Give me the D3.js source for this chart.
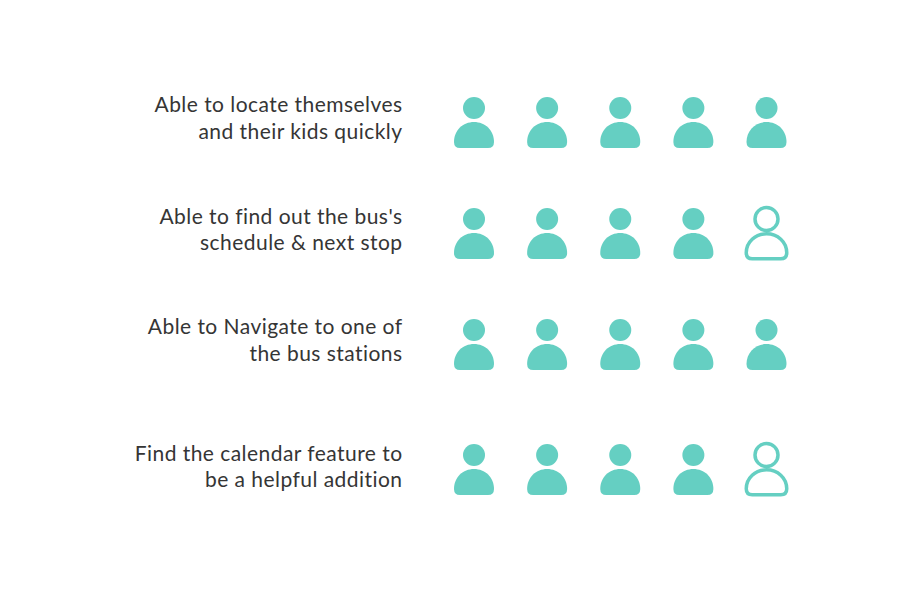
<!DOCTYPE html>
<html>
<head>
<meta charset="utf-8">
<script src="https://cdn.jsdelivr.net/npm/d3@7/dist/d3.min.js"></script>
<style>
html,body{margin:0;padding:0;background:#fff;}
svg{display:block;}
.label{font-family:"Lato",sans-serif;font-size:21px;fill:#353535;letter-spacing:0.45px;}
</style>
</head>
<body>
<svg id="chart"></svg>
<script>
var labelLines = [
    ["Able to locate themselves","and their kids quickly"],
    ["Able to find out the bus's","schedule & next stop"],
    ["Able to Navigate to one of","the bus stations"],
    ["Find the calendar feature to","be a helpful addition"]
];
var filledCounts = [5,4,5,4];
var slots = [0,1,2,3,4];

var screen = {width:915,height:589}
var teal = "#65cfc2"

var svg = d3.select("#chart")
    .attr("width",screen.width)
    .attr("height",screen.height)

var xScale = d3.scalePoint()
    .domain(slots)
    .range([474,766.5])

// rows are not evenly spaced in the picture
var yScale = d3.scaleOrdinal()
    .domain(d3.range(labelLines.length))
    .range([108,219,330,455])

var labelScale = d3.scaleOrdinal()
    .domain(d3.range(labelLines.length))
    .range([112.3,223.7,334,460.7])

var bodyPath = function(halfWidth,height,corner)
{
    var p = d3.path();
    var h = height;
    p.moveTo(-halfWidth,h-corner);
    p.bezierCurveTo(-halfWidth,h*0.32,-halfWidth*0.55,0,0,0);
    p.bezierCurveTo(halfWidth*0.55,0,halfWidth,h*0.32,halfWidth,h-corner);
    p.quadraticCurveTo(halfWidth,h,halfWidth-corner,h);
    p.lineTo(-halfWidth+corner,h);
    p.quadraticCurveTo(-halfWidth,h,-halfWidth,h-corner);
    p.closePath();
    return p.toString();
}

var rows = svg.selectAll("g.row")
    .data(filledCounts)
    .enter()
    .append("g")
    .attr("class","row")

rows.each(function(count,rowIndex)
{
    var row = d3.select(this);

    row.append("g")
    .selectAll("text")
    .data(labelLines[rowIndex])
    .enter()
    .append("text")
    .attr("class","label")
    .attr("text-anchor","end")
    .attr("x",402.5)
    .attr("y",function(d,i){return labelScale(rowIndex)+i*26.5;})
    .text(function(d){return d;})

    var people = row.selectAll("g.person")
    .data(slots)
    .enter()
    .append("g")
    .attr("class","person")
    .attr("transform",function(d){return "translate("+xScale(d)+","+yScale(rowIndex)+")";})

    people.each(function(slot)
    {
        var person = d3.select(this);
        if(slot < count)
        {
            person.append("circle")
            .attr("r",11)
            .attr("fill",teal)
            person.append("path")
            .attr("d",bodyPath(20,26,6))
            .attr("transform","translate(0,14)")
            .attr("fill",teal)
        }
        else
        {
            person.append("circle")
            .attr("r",11.5)
            .attr("fill","none")
            .attr("stroke",teal)
            .attr("stroke-width",3.5)
            person.append("path")
            .attr("d",bodyPath(20.25,25,6))
            .attr("transform","translate(0,14.8)")
            .attr("fill","none")
            .attr("stroke",teal)
            .attr("stroke-width",3.5)
        }
    })
})
</script>
</body>
</html>
